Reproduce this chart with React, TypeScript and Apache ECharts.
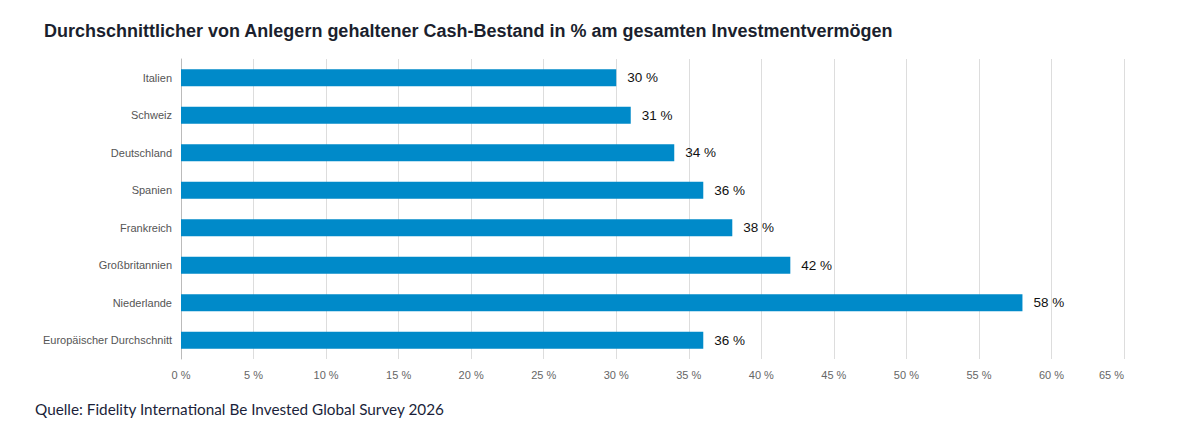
import React, { useEffect, useRef } from "react";
import * as echarts from "echarts";

const categories = [
  "Italien",
  "Schweiz",
  "Deutschland",
  "Spanien",
  "Frankreich",
  "Großbritannien",
  "Niederlande",
  "Europäischer Durchschnitt",
];
const values = [30, 31, 34, 36, 38, 42, 58, 36];
const titleText = "Durchschnittlicher von Anlegern gehaltener Cash-Bestand in % am gesamten Investmentvermögen";
const sourceText = "Quelle: Fidelity International Be Invested Global Survey 2026";

const SANS = "'Liberation Sans', Arial, sans-serif";

export default function App() {
  const ref = useRef<HTMLDivElement>(null);
  useEffect(() => {
    if (!ref.current) return;
    const chart = echarts.init(ref.current, undefined, { renderer: "svg" });
    chart.setOption({
      animation: false,
      backgroundColor: "#ffffff",
      title: {
        text: titleText,
        left: 44,
        top: 22,
        padding: 0,
        textStyle: {
          fontFamily: SANS,
          fontSize: 18,
          fontWeight: "bold",
          color: "#1b1f2e",
        },
      },
      grid: { left: 181, top: 59, width: 943, height: 300, containLabel: false },
      xAxis: {
        type: "value",
        min: 0,
        max: 65,
        interval: 5,
        axisLine: { show: false },
        axisTick: { show: false },
        splitLine: { show: true, lineStyle: { color: "#dddddd", width: 1 } },
        axisLabel: {
          formatter: "{value} %",
          color: "#666666",
          fontSize: 11,
          margin: 10,
          fontFamily: SANS,
          alignMaxLabel: "right",
        },
      },
      yAxis: {
        type: "category",
        data: categories,
        inverse: true,
        axisLine: { show: true, lineStyle: { color: "#bbbbbb", width: 1 } },
        axisTick: { show: false },
        axisLabel: {
          color: "#555555",
          fontSize: 11,
          margin: 9,
          fontFamily: SANS,
        },
      },
      series: [
        {
          type: "bar",
          data: values,
          barWidth: 17,
          itemStyle: { color: "#008ac9" },
          label: {
            show: true,
            position: "right",
            distance: 11,
            formatter: "{c} %",
            color: "#111111",
            fontSize: 13.5,
            fontFamily: SANS,
          },
        },
      ],
      graphic: [
        {
          type: "text",
          left: 35,
          top: 401,
          style: {
            text: sourceText,
            fontFamily: "Lato, 'Noto Sans', sans-serif",
            fontSize: 15.3,
            fill: "#1b1f3a",
          },
        },
      ],
    });
    return () => chart.dispose();
  }, []);
  return (
    <div
      ref={ref}
      style={{ position: "fixed", left: 0, top: 0, width: 1191, height: 445 }}
    />
  );
}
